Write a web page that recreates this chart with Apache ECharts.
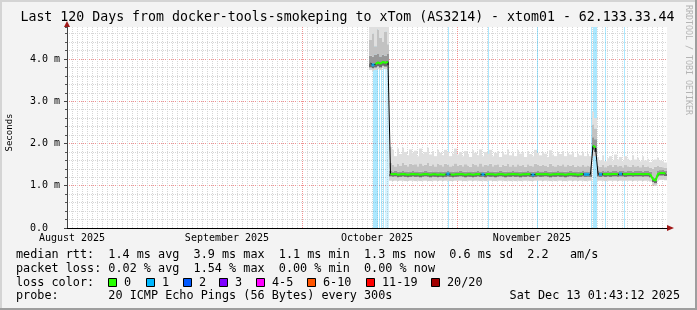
<!DOCTYPE html>
<html><head><meta charset="utf-8">
<script src="https://cdn.jsdelivr.net/npm/echarts@6/dist/echarts.min.js"></script>
<style>html,body{margin:0;padding:0;background:#f3f3f3}#c{width:697px;height:310px}</style>
</head><body><div id="c"></div>
<script>
// ---------------- data ----------------
const titleText = 'Last 120 Days from docker-tools-smokeping to xTom (AS3214) - xtom01 - 62.133.33.44';
const yAxisName = 'Seconds';
const monthLineDays = [17, 47, 78, 108];            // Sep 1, Oct 1, Nov 1, Dec 1 (days since Aug 15)
const monthLabelDays = [1, 32, 62, 93];             // mid-month label positions
const monthLabels = ['August 2025', 'September 2025', 'October 2025', 'November 2025'];
const sampleStart = 60.7, sampleStep = 0.5;          // regular sampling in days

const medianMs = [
  3.90,3.86,3.88,3.92,3.89,3.93,3.91,3.94,
  1.28,1.27,1.28,1.26,1.27,1.28,1.27,1.26,1.27,1.28,
  1.27,1.27,1.26,1.27,1.28,1.27,1.26,1.27,1.27,1.26,
  1.27,1.26,1.27,1.28,1.27,1.26,1.27,1.27,1.28,1.27,
  1.26,1.27,1.27,1.26,1.27,1.28,1.27,1.27,1.26,1.28,
  1.27,1.27,1.26,1.27,1.28,1.27,1.26,1.27,1.27,1.28,
  1.27,1.27,1.26,1.27,1.27,1.28,1.27,1.26,1.27,1.28,
  1.27,1.27,1.28,1.27,1.26,1.27,1.27,1.28,1.27,1.27,
  1.26,1.27,1.28,1.27,1.27,1.26,1.27,1.28,1.27,1.27,
  1.27,1.95,1.90,1.28,1.27,1.28,1.27,1.28,1.27,1.28,
  1.28,1.27,1.28,1.28,1.27,1.28,1.28,1.27,1.28,1.28,
  1.28,1.27,1.28,1.28,1.26,1.15,1.12,1.28,1.30,1.30,
  1.29
];
const smokeHighLight = [
  4.90,4.90,4.90,4.90,4.90,4.90,4.90,4.90,
  1.92,1.85,1.70,1.88,1.75,1.90,1.80,1.72,1.86,1.78,
  1.83,1.70,1.88,1.76,1.80,1.90,1.74,1.82,1.70,1.85,
  1.78,1.72,1.85,1.80,1.70,1.76,1.88,1.74,1.80,1.70,
  1.82,1.75,1.68,1.84,1.78,1.72,1.86,1.70,1.80,1.76,
  1.85,1.70,1.78,1.82,1.68,1.80,1.74,1.86,1.72,1.78,
  1.70,1.84,1.76,1.80,1.68,1.82,1.75,1.70,1.85,1.78,
  1.72,1.80,1.76,1.68,1.84,1.74,1.70,1.80,1.75,1.82,
  1.70,1.78,1.74,1.80,1.68,1.76,1.72,1.80,1.70,1.75,
  1.70,2.75,2.60,1.68,1.60,1.72,1.58,1.65,1.70,1.60,
  1.74,1.62,1.68,1.58,1.70,1.64,1.60,1.72,1.62,1.66,
  1.58,1.70,1.60,1.64,1.56,1.60,1.62,1.66,1.60,1.58,
  1.55
];
const smokeHighMid = [
  4.45,4.60,4.30,4.70,4.50,4.40,4.65,4.35,
  1.55,1.50,1.46,1.52,1.48,1.54,1.50,1.46,1.52,1.49,
  1.51,1.46,1.53,1.48,1.50,1.54,1.47,1.51,1.46,1.52,
  1.49,1.46,1.52,1.50,1.46,1.48,1.53,1.47,1.50,1.46,
  1.51,1.48,1.45,1.52,1.49,1.46,1.53,1.46,1.50,1.48,
  1.52,1.46,1.49,1.51,1.45,1.50,1.47,1.52,1.46,1.49,
  1.46,1.51,1.48,1.50,1.45,1.51,1.48,1.46,1.52,1.49,
  1.47,1.50,1.48,1.45,1.52,1.47,1.46,1.50,1.48,1.51,
  1.46,1.49,1.47,1.50,1.45,1.48,1.46,1.50,1.46,1.48,
  1.46,2.45,2.35,1.48,1.45,1.50,1.44,1.47,1.49,1.45,
  1.50,1.46,1.48,1.44,1.49,1.46,1.45,1.50,1.46,1.47,
  1.44,1.49,1.45,1.46,1.42,1.40,1.45,1.47,1.45,1.44,
  1.43
];
const smokeHighDark = [
  4.08,4.05,4.10,4.12,4.06,4.10,4.08,4.12,
  1.35,1.34,1.35,1.33,1.34,1.35,1.34,1.33,1.34,1.35,
  1.34,1.34,1.33,1.34,1.35,1.34,1.33,1.34,1.34,1.33,
  1.34,1.33,1.34,1.35,1.34,1.33,1.34,1.34,1.35,1.34,
  1.33,1.34,1.34,1.33,1.34,1.35,1.34,1.34,1.33,1.35,
  1.34,1.34,1.33,1.34,1.35,1.34,1.33,1.34,1.34,1.35,
  1.34,1.34,1.33,1.34,1.34,1.35,1.34,1.33,1.34,1.35,
  1.34,1.34,1.35,1.34,1.33,1.34,1.34,1.35,1.34,1.34,
  1.33,1.34,1.35,1.34,1.34,1.33,1.34,1.35,1.34,1.34,
  1.34,2.15,2.10,1.35,1.34,1.35,1.34,1.35,1.34,1.35,
  1.35,1.34,1.35,1.35,1.34,1.35,1.35,1.34,1.35,1.35,
  1.35,1.34,1.35,1.35,1.33,1.22,1.19,1.35,1.37,1.37,
  1.36
];
const smokeLowDark = [
  3.80,3.78,3.80,3.83,3.80,3.84,3.82,3.85,
  1.22,1.21,1.22,1.20,1.21,1.22,1.21,1.20,1.21,1.22,
  1.21,1.21,1.20,1.21,1.22,1.21,1.20,1.21,1.21,1.20,
  1.21,1.20,1.21,1.22,1.21,1.20,1.21,1.21,1.22,1.21,
  1.20,1.21,1.21,1.20,1.21,1.22,1.21,1.21,1.20,1.22,
  1.21,1.21,1.20,1.21,1.22,1.21,1.20,1.21,1.21,1.22,
  1.21,1.21,1.20,1.21,1.21,1.22,1.21,1.20,1.21,1.22,
  1.21,1.21,1.22,1.21,1.20,1.21,1.21,1.22,1.21,1.21,
  1.20,1.21,1.22,1.21,1.21,1.20,1.21,1.22,1.21,1.21,
  1.21,1.85,1.80,1.22,1.21,1.22,1.21,1.22,1.21,1.22,
  1.22,1.21,1.22,1.22,1.21,1.22,1.22,1.21,1.22,1.22,
  1.22,1.21,1.22,1.22,1.20,1.09,1.06,1.22,1.24,1.24,
  1.23
];
const smokeLowLight = [
  3.74,3.72,3.74,3.76,3.74,3.78,3.76,3.78,
  1.12,1.11,1.12,1.11,1.12,1.12,1.11,1.11,1.12,1.12,
  1.11,1.12,1.11,1.12,1.12,1.11,1.11,1.12,1.12,1.11,
  1.12,1.11,1.12,1.12,1.11,1.11,1.12,1.12,1.12,1.11,
  1.11,1.12,1.12,1.11,1.12,1.12,1.11,1.12,1.11,1.12,
  1.12,1.11,1.11,1.12,1.12,1.12,1.11,1.12,1.11,1.12,
  1.11,1.12,1.11,1.12,1.12,1.12,1.11,1.11,1.12,1.12,
  1.12,1.11,1.12,1.12,1.11,1.12,1.11,1.12,1.12,1.11,
  1.11,1.12,1.12,1.11,1.12,1.11,1.12,1.12,1.11,1.12,
  1.12,1.70,1.70,1.12,1.12,1.12,1.11,1.12,1.12,1.12,
  1.12,1.11,1.12,1.12,1.12,1.12,1.12,1.11,1.12,1.12,
  1.12,1.11,1.12,1.12,1.10,1.02,1.00,1.12,1.14,1.14,
  1.13
];
const lossPings = [
  0,1,0,0,0,0,0,0,
  0,0,0,0,0,0,0,0,0,0,
  0,0,0,0,0,0,0,0,0,0,
  0,0,0,1,0,0,0,0,0,0,
  0,0,0,0,0,0,0,1,0,0,
  0,0,0,0,0,0,0,0,0,0,
  0,0,0,0,0,0,0,1,0,0,
  0,0,0,0,0,0,0,0,0,0,
  0,0,0,0,0,0,0,0,1,1,
  0,0,0,0,1,0,0,0,0,0,
  0,0,1,0,0,0,0,0,0,0,
  0,0,0,0,0,0,0,0,0,0,
  0
];
// time ranges (days) with 1/20 packet loss -> light blue background columns
const lossBandStart = [61.2, 62.4, 62.8, 63.2, 63.7, 64.1, 76.2, 84.2, 94.0, 104.8, 105.2, 107.6, 111.4];
const lossBandEnd   = [62.2, 62.6, 63.0, 63.4, 63.9, 64.3, 76.4, 84.4, 94.2, 105.0, 106.0, 107.8, 111.6];

const legendRows = [
  'median rtt:  1.4 ms avg  3.9 ms max  1.1 ms min  1.3 ms now  0.6 ms sd  2.2   am/s',
  'packet loss: 0.02 % avg  1.54 % max  0.00 % min  0.00 % now',
  'loss color:',
  'probe:       20 ICMP Echo Pings (56 Bytes) every 300s'
];
const lossLabels = ['0', '1', '2', '3', '4-5', '6-10', '11-19', '20/20'];
const lossColors = ['#26ff00', '#00b8ff', '#0059ff', '#7e00ff', '#ff00ff', '#ff5500', '#ff0000', '#a10000'];
const dateText = 'Sat Dec 13 01:43:12 2025';
const creditText = 'RRDTOOL / TOBI OETIKER';

// ---------------- build ----------------
const MONO = "'DejaVu Sans Mono', monospace";
const yMax = 4.757;
const days = medianMs.map((_, i) => +(sampleStart + i * sampleStep).toFixed(2));
// band colours: [lowLight..lowDark], [lowDark..median], [median..highDark], [highDark..highMid], [highMid..highLight]
const bandColors = ['#d2d2d2', '#6c6c6c', '#979797', '#c2c2c2', '#dfdfdf'];

const series = [];
// loss background columns
series.push({
  type: 'line', data: [], silent: true, z: 1,
  markArea: {
    silent: true,
    itemStyle: { color: 'rgba(0,184,255,0.33)' },
    data: lossBandStart.map((s, i) => [{ xAxis: s }, { xAxis: lossBandEnd[i] }])
  }
});
// smoke: one column per sample, split into shaded bands
series.push({
  type: 'custom', silent: true, z: 2, clip: true,
  data: days.map((d, i) => [d, smokeLowLight[i], smokeLowDark[i], medianMs[i], smokeHighDark[i], smokeHighMid[i], smokeHighLight[i]]),
  encode: { x: 0, y: [1, 2, 3, 4, 5, 6] },
  renderItem: (params, api) => {
    const d = api.value(0);
    const cs = params.coordSys;
    const children = [];
    for (let b = 1; b < 6; b++) {
      const lo = api.value(b), hi = api.value(b + 1);
      const p0 = api.coord([d - sampleStep / 2, hi]);
      const p1 = api.coord([d + sampleStep / 2, lo]);
      const x0 = Math.round(p0[0]), x1 = Math.round(p1[0]);
      const rect = echarts.graphic.clipRectByRect(
        { x: x0, y: p0[1], width: x1 - x0, height: p1[1] - p0[1] },
        { x: cs.x, y: cs.y, width: cs.width, height: cs.height });
      if (rect) children.push({ type: 'rect', shape: rect, style: { fill: bandColors[b - 1] } });
    }
    return { type: 'group', children };
  }
});
// median black line
series.push({
  type: 'line', silent: true, z: 3, symbol: 'none',
  lineStyle: { color: '#000', width: 1 },
  data: medianMs.map((v, i) => [days[i], v])
});
// green (no loss) median segments
const green = [];
medianMs.forEach((v, i) => {
  if (i > 0 && Math.abs(v - medianMs[i - 1]) > 0.3) green.push([days[i] - 0.25, null]);
  green.push([days[i], lossPings[i] === 0 ? v : null]);
});
series.push({
  type: 'line', silent: true, z: 4, symbol: 'none', connectNulls: false,
  lineStyle: { color: lossColors[0], width: 2 },
  data: green
});
series.push({
  type: 'scatter', silent: true, z: 5, symbol: 'rect', symbolSize: 3,
  itemStyle: { color: lossColors[1] },
  data: medianMs.map((v, i) => lossPings[i] ? [days[i], v] : null).filter(Boolean)
});

// ---------------- decorations ----------------
const graphic = [];
graphic.push({ type: 'text', x: 347.5, y: 18, style: { text: titleText, font: '13.25px ' + MONO, fill: '#000', align: 'center', verticalAlign: 'middle' } });
graphic.push({ type: 'text', x: 10, y: 132.5, rotation: Math.PI / 2, style: { text: yAxisName, font: '9px ' + MONO, fill: '#000', align: 'center', verticalAlign: 'middle' } });
graphic.push({ type: 'text', x: 688, y: 60, rotation: -Math.PI / 2, style: { text: creditText, font: '8.3px ' + MONO, fill: '#b4b4b4', align: 'center', verticalAlign: 'middle' } });
const rowY = [254.5, 268.5, 282.5, 296.3];
legendRows.forEach((t, i) => {
  graphic.push({ type: 'text', x: 16, y: rowY[i], style: { text: t, font: '11.8px ' + MONO, fill: '#000', align: 'left', verticalAlign: 'middle' } });
});
graphic.push({ type: 'text', x: 680, y: rowY[3], style: { text: dateText, font: '11.8px ' + MONO, fill: '#000', align: 'right', verticalAlign: 'middle' } });
const swatchX = [108, 145.7, 182.7, 219, 256, 307, 365.7, 430.7];
lossLabels.forEach((lab, i) => {
  graphic.push({ type: 'rect', shape: { x: Math.round(swatchX[i]) + 0.5, y: 278.5, width: 8, height: 8 }, style: { fill: lossColors[i], stroke: '#000', lineWidth: 1 } });
  graphic.push({ type: 'text', x: Math.round(swatchX[i]) + 16, y: rowY[2], style: { text: lab, font: '11.8px ' + MONO, fill: '#000', align: 'left', verticalAlign: 'middle' } });
});
// arrows
graphic.push({ type: 'polygon', shape: { points: [[67, 21], [64, 27], [70, 27]] }, style: { fill: '#a01818' } });
graphic.push({ type: 'polygon', shape: { points: [[674, 228], [667, 225], [667, 231]] }, style: { fill: '#a01818' } });
// frame
graphic.push({ type: 'rect', shape: { x: 0, y: 0, width: 697, height: 2 }, style: { fill: '#d4d4d4' } });
graphic.push({ type: 'rect', shape: { x: 0, y: 0, width: 2, height: 310 }, style: { fill: '#d4d4d4' } });
graphic.push({ type: 'rect', shape: { x: 695, y: 0, width: 2, height: 310 }, style: { fill: '#9e9e9e' } });
graphic.push({ type: 'rect', shape: { x: 0, y: 308, width: 697, height: 2 }, style: { fill: '#9e9e9e' } });

const option = {
  animation: false,
  backgroundColor: '#f3f3f3',
  grid: { left: 67, right: 30, top: 27, bottom: 82, show: true, backgroundColor: '#ffffff', borderWidth: 0 },
  xAxis: [{
    type: 'value', min: 0, max: 120, interval: 1,
    axisLine: { show: true, lineStyle: { color: '#000', width: 1 } },
    axisTick: { show: false },
    splitLine: { show: true, showMaxLine: false, lineStyle: { color: '#d6d6d6', type: [1, 1], width: 1 } },
    axisLabel: {
      customValues: monthLabelDays, margin: 5,
      formatter: v => monthLabels[monthLabelDays.indexOf(Math.round(v))] || '',
      fontFamily: MONO, fontSize: 10, color: '#000'
    }
  }, {
    // month boundaries: major (red) vertical grid
    type: 'value', min: 0, max: 120, interval: 1000, position: 'bottom',
    axisLine: { show: false },
    axisLabel: { show: false },
    axisTick: { show: false, customValues: monthLineDays },
    splitLine: { show: true, showMinLine: false, showMaxLine: false, lineStyle: { color: '#f09090', type: [1, 1], width: 1 } }
  }],
  yAxis: [{
    type: 'value', min: 0, max: yMax, interval: 0.2,
    axisLine: { show: true, lineStyle: { color: '#444', width: 1 } },
    axisTick: { show: true, length: 2, lineStyle: { color: '#555' } },
    splitLine: { show: true, showMaxLine: false, lineStyle: { color: '#d6d6d6', type: [1, 1], width: 1 } },
    axisLabel: { show: false }
  }, {
    type: 'value', min: 0, max: yMax, interval: 1, position: 'left',
    axisLine: { show: false },
    axisTick: { show: true, length: 3, lineStyle: { color: '#444' } },
    splitLine: { show: true, showMaxLine: false, showMinLine: false, lineStyle: { color: '#f09090', type: [1, 1], width: 1 } },
    axisLabel: {
      showMaxLabel: false, margin: 7, fontFamily: MONO, fontSize: 10, color: '#000',
      formatter: v => { const r = Math.round(v * 10) / 10; return r === 0 ? '0.0  ' : r.toFixed(1) + ' m'; }
    }
  }],
  series: series,
  graphic: graphic
};
const chart = echarts.init(document.getElementById('c'), null, { renderer: 'canvas', width: 697, height: 310 });
chart.setOption(option);
</script>
</body></html>
